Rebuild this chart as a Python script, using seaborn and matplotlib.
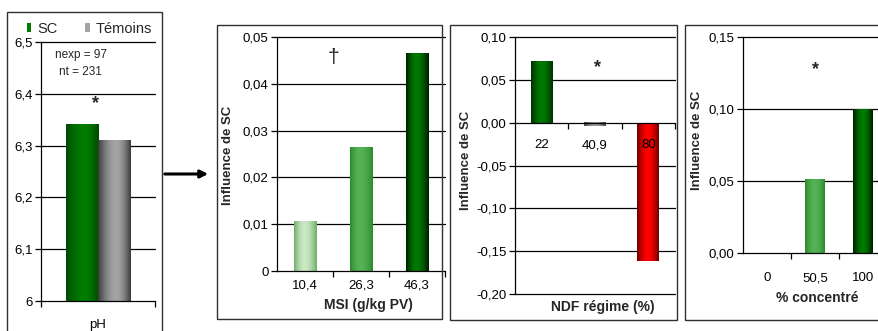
import numpy as np
import pandas as pd
import matplotlib
matplotlib.use('Agg')
import matplotlib.pyplot as plt
import seaborn as sns
from matplotlib.patches import Rectangle, FancyArrowPatch, Patch
from matplotlib.colors import to_rgb

# ---------------- data ----------------
ph_category = ['pH']
ph_series = ['SC', 'Témoins']
ph_values = [6.34, 6.31]
ph_ticks = [6.0, 6.1, 6.2, 6.3, 6.4, 6.5]

msi_labels = ['10,4', '26,3', '46,3']
msi_values = [0.0105, 0.0263, 0.0465]
msi_ticks = [0.0, 0.01, 0.02, 0.03, 0.04, 0.05]

ndf_labels = ['22', '40,9', '80']
ndf_values = [0.072, -0.004, -0.161]
ndf_ticks = [-0.20, -0.15, -0.10, -0.05, 0.0, 0.05, 0.10]

conc_labels = ['0', '50,5', '100']
conc_values = [0.0, 0.051, 0.100]
conc_ticks = [0.0, 0.05, 0.10, 0.15]

# shading (edge colour, centre colour) per bar
ph_shades = [('#004800', '#007c00'), ('#3a3a3a', '#a4a4a4')]
msi_shades = [('#6aac6a', '#cbe9c3'), ('#2a8a2a', '#56b256'), ('#001800', '#007a00')]
ndf_shades = [('#002c00', '#007800'), ('#404040', '#9a9a9a'), ('#660000', '#ff0000')]
conc_shades = [('#2a8a2a', '#56b256'), ('#2a8a2a', '#56b256'), ('#001800', '#007a00')]

sns.set_theme(style='white')
plt.rcParams['font.family'] = ['Liberation Sans', 'DejaVu Sans']
plt.rcParams['axes.linewidth'] = 0.9

W, H = 879, 331
fig = plt.figure(figsize=(W / 100, H / 100), dpi=100)
fig.patch.set_facecolor('white')

TICK_FS = 9.5
YLAB_FS = 9.5
XLAB_FS = 10


def add_ax(x0, x1, ytop, ybot):
    return fig.add_axes([x0 / W, (H - ybot) / H, (x1 - x0) / W, (ybot - ytop) / H])


def px(x, y):
    return (x / W, 1 - y / H)


def fmt(v, zero_plain=False, dec=2):
    if zero_plain and v == 0:
        return '0'
    return f'{v:.{dec}f}'.replace('.', ',')


def shade_bars(ax, bars, shades, peak=0.5):
    xl, yl = ax.get_xlim(), ax.get_ylim()
    for bar, (edge, center) in zip(bars, shades):
        x, y = bar.get_x(), bar.get_y()
        w, h = bar.get_width(), bar.get_height()
        if w == 0 or h == 0:
            continue
        t = np.linspace(0, 1, 90)
        d = np.where(t < peak, (peak - t) / peak, (t - peak) / (1 - peak))
        f = d ** 1.8
        e, c = np.array(to_rgb(edge)), np.array(to_rgb(center))
        img = c[None, :] * (1 - f[:, None]) + e[None, :] * f[:, None]
        ax.imshow(img[None, :, :], extent=[x, x + w, min(y, y + h), max(y, y + h)],
                  aspect='auto', zorder=1.2, interpolation='bilinear')
    ax.set_xlim(xl)
    ax.set_ylim(yl)


def style_axis(ax, ticks, ylim, dec=2, zero_plain=False):
    ax.set_axisbelow(False)
    ax.set_ylim(ylim)
    ax.set_yticks(ticks)
    ax.set_yticklabels([fmt(v, zero_plain, dec) for v in ticks], fontsize=TICK_FS)
    for v in ticks:
        if v != 0.0 and ylim[0] < v <= ylim[1]:
            ax.axhline(v, color='black', lw=0.9, zorder=0.5, clip_on=False)
    ax.spines['right'].set_visible(False)
    ax.spines['top'].set_visible(False)
    ax.spines['left'].set_color('black')
    ax.spines['bottom'].set_color('black')
    ax.tick_params(axis='y', which='major', direction='out', length=4, width=0.9,
                   color='black', left=True, pad=2, labelcolor='black')
    ax.tick_params(axis='x', which='major', length=0, labelsize=TICK_FS, labelcolor='black')
    ax.tick_params(axis='x', which='minor', direction='out', length=4, width=0.9,
                   color='black', bottom=True)
    ax.set_facecolor('white')


def frame(x0, x1, ytop, ybot):
    fig.patches.append(Rectangle((x0 / W, (H - ybot) / H), (x1 - x0) / W, (ybot - ytop) / H,
                                 transform=fig.transFigure, fill=False,
                                 edgecolor='#303030', lw=1.0, zorder=0))


# ---------------- frames ----------------
frame(7, 162, 12, 345)
frame(217, 442, 25, 319)
frame(450, 677, 25, 320)
frame(685, 900, 25, 320)

# ---------------- panel 1 : pH ----------------
ax1 = add_ax(41, 155, 42, 301)
df1 = pd.DataFrame({'cat': ph_category * len(ph_series), 'serie': ph_series, 'val': ph_values})
sns.barplot(data=df1, x='cat', y='val', hue='serie', palette=[s[1] for s in ph_shades],
            width=0.57, gap=0, saturation=1, linewidth=0, legend=False, ax=ax1)
ax1.set_xlim(-0.5, 0.5)
style_axis(ax1, ph_ticks, (6.0, 6.5), dec=1)
ax1.set_yticklabels([('6' if v == 6.0 else fmt(v, dec=1)) for v in ph_ticks], fontsize=TICK_FS)
shade_bars(ax1, [c[0] for c in ax1.containers], ph_shades, peak=0.55)
ax1.set_xticks([0])
ax1.set_xticklabels(ph_category)
ax1.set_xticks([-0.5, 0.5], minor=True)
ax1.tick_params(axis='x', which='major', pad=13)
ax1.set_xlabel('')
ax1.set_ylabel('')
fig.text(*px(81, 55), 'nexp = 97', fontsize=8.5, ha='center', va='center')
fig.text(*px(80, 72), 'nt = 231', fontsize=8.5, ha='center', va='center')
fig.text(*px(96, 104), '*', fontsize=13, ha='center', va='center', fontweight='bold')
handles = [Patch(facecolor=s[1], edgecolor='none') for s in ph_shades]
ax1.legend(handles, ph_series, loc='center left', bbox_to_anchor=px(27, 29),
           bbox_transform=fig.transFigure, ncol=2, frameon=False, fontsize=10.5,
           handlelength=0.3, handleheight=0.55, handletextpad=0.4, columnspacing=1.9,
           borderaxespad=0, borderpad=0)

# ---------------- panel 2 : MSI ----------------
ax2 = add_ax(277, 445, 37, 271)
sns.barplot(x=msi_labels, y=msi_values, hue=msi_labels, palette=[s[1] for s in msi_shades],
            width=0.41, saturation=1, linewidth=0, legend=False, ax=ax2)
ax2.set_xlim(-0.5, 2.5)
style_axis(ax2, msi_ticks, (0, 0.05), dec=2, zero_plain=True)
shade_bars(ax2, [c[0] for c in ax2.containers], msi_shades, peak=0.45)
ax2.set_xticks([0.5, 1.5, 2.5], minor=True)
ax2.tick_params(axis='x', which='major', pad=6)
ax2.set_xlabel('MSI (g/kg PV)', fontsize=XLAB_FS, fontweight='bold', va='center')
ax2.xaxis.set_label_coords((368 - 277) / 168, -(305 - 271) / 234)
ax2.set_ylabel('Influence de SC', fontsize=YLAB_FS, fontweight='bold', va='center')
ax2.yaxis.set_label_coords((228 - 277) / 168, (271 - 155) / 234)
fig.text(*px(333, 58), '†', fontsize=15, ha='center', va='center')

# ---------------- panel 3 : NDF ----------------
ax3 = add_ax(515, 675, 37, 294)
sns.barplot(x=ndf_labels, y=ndf_values, hue=ndf_labels, palette=[s[1] for s in ndf_shades],
            width=0.41, saturation=1, linewidth=0, legend=False, ax=ax3)
ax3.set_xlim(-0.5, 2.5)
style_axis(ax3, ndf_ticks, (-0.20, 0.10), dec=2)
ax3.axhline(-0.20, color='black', lw=0.9, zorder=0.5, clip_on=False)
ax3.spines['bottom'].set_position(('data', 0))
shade_bars(ax3, [c[0] for c in ax3.containers], ndf_shades, peak=0.5)
ax3.set_xticks([0.5, 1.5, 2.5], minor=True)
ax3.tick_params(axis='x', which='major', pad=12)
ax3.set_xlabel('NDF régime (%)', fontsize=XLAB_FS, fontweight='bold', va='center')
ax3.xaxis.set_label_coords((603 - 515) / 160, -(307 - 294) / 257)
ax3.set_ylabel('Influence de SC', fontsize=YLAB_FS, fontweight='bold', va='center')
ax3.yaxis.set_label_coords((466 - 515) / 160, (294 - 160) / 257)
fig.text(*px(598, 68), '*', fontsize=13, ha='center', va='center', fontweight='bold')

# ---------------- panel 4 : % concentré ----------------
ax4 = add_ax(743, 887, 37, 253)
sns.barplot(x=conc_labels, y=conc_values, hue=conc_labels, palette=[s[1] for s in conc_shades],
            width=0.41, saturation=1, linewidth=0, legend=False, ax=ax4)
ax4.set_xlim(-0.5, 2.5)
style_axis(ax4, conc_ticks, (0, 0.15), dec=2)
shade_bars(ax4, [c[0] for c in ax4.containers], conc_shades, peak=0.5)
ax4.set_xticks([0.5, 1.5], minor=True)
ax4.tick_params(axis='x', which='major', pad=14)
ax4.set_xlabel('% concentré', fontsize=XLAB_FS, fontweight='bold', va='center')
ax4.xaxis.set_label_coords((817 - 743) / 144, -(298 - 253) / 216)
ax4.set_ylabel('Influence de SC', fontsize=YLAB_FS, fontweight='bold', va='center')
ax4.yaxis.set_label_coords((697 - 743) / 144, (253 - 140) / 216)
fig.text(*px(816, 70), '*', fontsize=13, ha='center', va='center', fontweight='bold')

# ---------------- arrow ----------------
fig.patches.append(FancyArrowPatch(px(162, 174), px(211, 174),
                                   transform=fig.transFigure, arrowstyle='-|>',
                                   mutation_scale=11, lw=2.2, color='black'))

fig.savefig('out.png', dpi=100)
